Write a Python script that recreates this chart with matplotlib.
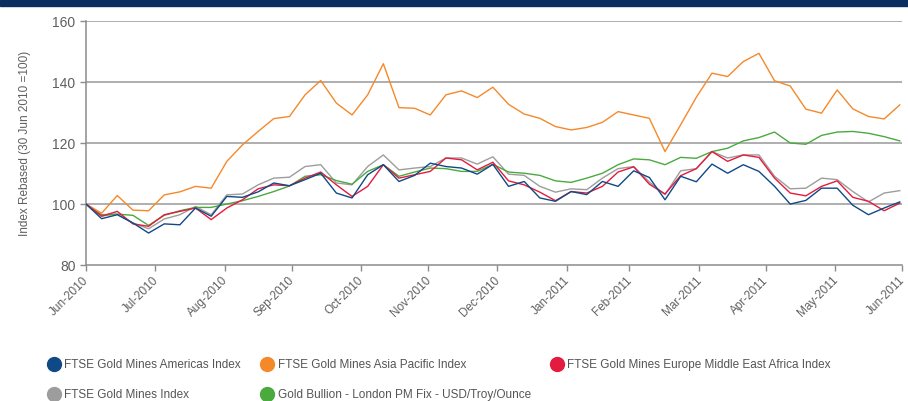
import numpy as np
import pandas as pd
import matplotlib
matplotlib.use('Agg')
import matplotlib.pyplot as plt
import matplotlib.dates as mdates
from matplotlib.lines import Line2D
from matplotlib.patches import Rectangle

plt.rcParams['font.family'] = ['Liberation Sans', 'DejaVu Sans']

# weekly observations, rebased 30 Jun 2010 = 100
dates = pd.date_range('2010-06-30', periods=53, freq='7D')

americas = [100, 95.2, 96.5, 93.8, 90.5, 93.5, 93.2, 98.7, 96, 102.5, 102.2, 104, 106.9, 106,
            108, 110.1, 103.6, 102, 109.6, 112.9, 107.4, 109.4, 113.4, 112.3, 111.8, 109.8, 113,
            105.8, 107.4, 102, 100.9, 104.1, 103.1, 107.4, 105.8, 110.9, 108.7, 101.4, 109.1, 107.3,
            113.1, 110.1, 112.9, 110.7, 105.8, 100, 101.2, 105.2, 105.2, 99.6, 96.5, 98.7, 100.7]
asia_pac = [100, 97, 102.8, 98, 97.8, 103, 104, 105.8, 105.2, 114, 119.4, 123.8, 128, 128.7,
            135.8, 140.5, 133.1, 129.2, 135.8, 146, 131.6, 131.4, 129.2, 135.8, 137.1, 134.9, 138.3,
            132.7, 129.5, 128.1, 125.4, 124.3, 125.1, 126.8, 130.3, 129.2, 128.1, 117.2, 126, 135,
            142.9, 141.8, 146.7, 149.4, 140.4, 138.7, 131.1, 129.8, 137.4, 131.2, 128.7, 127.9, 132.5]
emea = [100, 96, 97.6, 93.5, 92.7, 96.5, 97.6, 98.7, 94.9, 98.7, 101.4, 105, 106.3, 106,
        108.5, 110.5, 106.3, 102.5, 105.8, 112.9, 108.5, 109.6, 110.7, 115.1, 114.5, 111.2, 113.7,
        107.6, 106.3, 103.9, 101.1, 104.1, 103.6, 105.8, 110.5, 112.2, 106.5, 103.3, 109.3, 111.6,
        117.2, 114, 116.1, 115.3, 108.5, 103.6, 102.7, 105.8, 107.6, 102.2, 100.9, 97.8, 100.3]
gold_mines = [100, 96.1, 96.7, 93.8, 91.9, 95.1, 96.5, 99.2, 96.5, 103, 103.3, 106.3, 108.5, 108.8,
              112.3, 112.9, 106.9, 106.3, 112.3, 116.1, 111.2, 111.8, 112.3, 115.1, 115.1, 113.1, 115.5,
              109.8, 109.4, 105.8, 103.9, 105, 104.7, 108.5, 111.6, 112.3, 107.2, 103.1, 110.9, 111.6,
              117.2, 115.1, 116.1, 116.1, 109.1, 105, 105.2, 108.5, 108, 104.1, 100.7, 103.6, 104.4]
bullion = [100, 96.5, 96.7, 96.3, 93, 96.3, 97.8, 98.9, 98.9, 100, 101.1, 102.5, 104.1, 105.9,
           109.1, 109.6, 107.7, 106.5, 110.7, 112.9, 109.1, 110.5, 111.8, 111.6, 110.7, 110.7, 113,
           110.5, 110.1, 109.4, 107.6, 107.1, 108.5, 110.1, 112.9, 114.8, 114.5, 112.9, 115.3, 115,
           117.2, 118.3, 120.7, 121.8, 123.6, 120, 119.6, 122.5, 123.6, 123.8, 123.2, 122.1, 120.7]

labels = ['FTSE Gold Mines Americas Index', 'FTSE Gold Mines Asia Pacific Index',
          'FTSE Gold Mines Europe Middle East Africa Index', 'FTSE Gold Mines Index',
          'Gold Bullion - London PM Fix - USD/Troy/Ounce']
colors = ['#0f4a87', '#f5892a', '#e31b3e', '#9d9d9d', '#4aaa3e']

month_ticks = pd.date_range('2010-06-30', '2011-06-30', freq='ME')
y_ticks = [80, 100, 120, 140, 160]

fig = plt.figure(figsize=(9.08, 4.01), dpi=100)
fig.patches.append(Rectangle((0, 0.985), 1, 0.015, transform=fig.transFigure,
                             color='#0a2f5e', zorder=0))
ax = fig.add_axes([0.0947, 0.339, 0.8987, 0.6086])

# draw order: gray/green/orange under red and blue
for ser, c in [(gold_mines, colors[3]), (bullion, colors[4]), (asia_pac, colors[1]),
               (emea, colors[2]), (americas, colors[0])]:
    ax.plot(dates, ser, color=c, lw=1.0, zorder=3)

ax.set_ylim(80, 160)
ax.set_yticks(y_ticks)
ax.set_xlim(month_ticks[0], month_ticks[-1])
ax.set_xticks(month_ticks)
ax.xaxis.set_major_formatter(mdates.DateFormatter('%b-%Y'))
for y in y_ticks[1:]:
    ax.axhline(y, color='#999999', lw=1.1, zorder=1)

for s in ['top', 'right']:
    ax.spines[s].set_visible(False)
for s in ['left', 'bottom']:
    ax.spines[s].set_color('#8c8c8c')
    ax.spines[s].set_linewidth(1.1)
ax.tick_params(colors='#8c8c8c', labelcolor='#5f5f5f', length=4, width=1)
ax.tick_params(axis='y', labelsize=10)
ax.tick_params(axis='x', labelsize=8.5, pad=5)
plt.setp(ax.get_xticklabels(), rotation=45, ha='right', va='center_baseline',
         rotation_mode='anchor')
ax.set_ylabel('Index Rebased (30 Jun 2010 =100)', color='#5f5f5f', fontsize=8.5, labelpad=15)

# legend: column-major order so row 1 = Americas, Asia Pacific, EMEA
order = [0, 3, 1, 4, 2]
handles = [Line2D([], [], ls='none', marker='o', ms=10, color=colors[i]) for i in order]
fig.legend(handles, [labels[i] for i in order], ncol=3, loc='upper left',
           bbox_to_anchor=(0.045, 0.12), frameon=False, fontsize=8.5,
           labelcolor='#555555', handletextpad=0.3, columnspacing=1.6,
           labelspacing=1.55, handlelength=1.2, borderpad=0)

fig.savefig('out.png', dpi=100)
